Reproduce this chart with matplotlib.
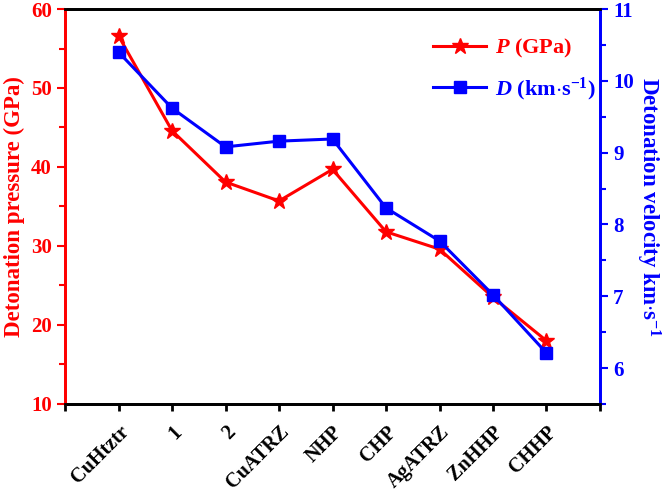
import matplotlib
matplotlib.use('Agg')
import matplotlib.pyplot as plt
from matplotlib.ticker import MultipleLocator
from matplotlib.lines import Line2D

# dados
categories = ['CuHtztr', '1', '2', 'CuATRZ', 'NHP', 'CHP', 'AgATRZ', 'ZnHHP', 'CHHP']
pressure = [56.6, 44.6, 38.1, 35.7, 39.7, 31.8, 29.6, 23.5, 18.0]   # GPa
velocity = [10.40, 9.62, 9.08, 9.16, 9.19, 8.23, 7.77, 7.02, 6.21]   # km/s

plt.rcParams['font.family'] = 'Liberation Serif'
plt.rcParams['font.weight'] = 'bold'
plt.rcParams['mathtext.fontset'] = 'custom'
plt.rcParams['mathtext.rm'] = 'Liberation Serif:bold'
plt.rcParams['mathtext.it'] = 'Liberation Serif:italic:bold'
plt.rcParams['mathtext.bf'] = 'Liberation Serif:bold'

red = '#ff0000'
blue = '#0000ff'

fig = plt.figure(figsize=(6.66, 4.92), dpi=100)
ax = fig.add_axes([0.0976, 0.1789, 0.8033, 0.8028])
ax2 = ax.twinx()

x = list(range(1, len(categories) + 1))
ax.plot(x, pressure, color=red, lw=2.2, marker='*', ms=12, mec=red, mfc=red, zorder=3)
ax2.plot(x, velocity, color=blue, lw=2.2, marker='s', ms=9, mec=blue, mfc=blue, zorder=3)

ax.set_xlim(0, 10)
ax.set_ylim(10, 60)
ax2.set_ylim(5.5, 11)

ax.set_xticks(range(0, 11))
ax.set_xticklabels([''] + categories + [''], rotation=45, ha='right', rotation_mode='anchor',
                   fontsize=14.5, fontweight='bold')
ax.tick_params(axis='x', direction='out', length=5, width=2, pad=8)

ax.yaxis.set_major_locator(MultipleLocator(10))
ax.yaxis.set_minor_locator(MultipleLocator(5))
ax.tick_params(axis='y', which='major', direction='out', length=6, width=1.5, colors=red, labelsize=15)
ax.tick_params(axis='y', which='minor', direction='out', length=4, width=1.5, colors=red)

ax2.yaxis.set_major_locator(MultipleLocator(1))
ax2.yaxis.set_minor_locator(MultipleLocator(0.5))
ax2.tick_params(axis='y', which='major', direction='out', length=6, width=1.5, colors=blue, labelsize=15)
ax2.tick_params(axis='y', which='minor', direction='out', length=4, width=1.5, colors=blue)

for a in (ax, ax2):
    a.spines['top'].set_color('black')
    a.spines['bottom'].set_color('black')
    a.spines['top'].set_linewidth(2)
    a.spines['bottom'].set_linewidth(2)
    a.spines['left'].set_color(red)
    a.spines['right'].set_color(blue)
    a.spines['left'].set_linewidth(2)
    a.spines['right'].set_linewidth(2)

ax.set_ylabel('Detonation pressure (GPa)', color=red, fontsize=16.5, fontweight='bold', labelpad=4)
ax2.set_ylabel(r'Detonation velocity km$\cdot$s$^{-1}$', color=blue, fontsize=16.5,
               fontweight='bold', rotation=270, labelpad=20)

handles = [Line2D([], [], color=red, lw=2.2, marker='*', ms=12),
           Line2D([], [], color=blue, lw=2.2, marker='s', ms=9)]
labels = [r'$\mathit{P}$ (GPa)', r'$\mathit{D}$ (km$\cdot$s$^{-1}$)']
leg = ax.legend(handles, labels, loc='upper right', bbox_to_anchor=(1.03, 0.98), frameon=False,
                fontsize=16, handlelength=2.4, labelspacing=0.7, handletextpad=0.4)
leg.texts[0].set_color(red)
leg.texts[1].set_color(blue)

fig.savefig('out.png', dpi=100)
